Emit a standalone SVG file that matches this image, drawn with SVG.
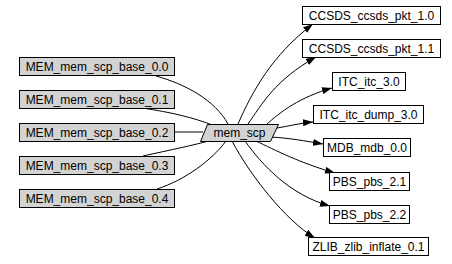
<svg xmlns="http://www.w3.org/2000/svg" width="452" height="264" viewBox="0 0 452 264">
<style>
.n rect,.n polygon{stroke:#000;stroke-width:1}
.g{fill:#d3d3d3}
.w{fill:#fff}
text{font-family:"Liberation Sans",Arial,sans-serif;font-size:12px;fill:#000;text-anchor:middle}
.e path{fill:none;stroke:#000;stroke-width:1}
.a path{marker-end:url(#ah)}
</style>
<defs>
<marker id="ah" viewBox="0 0 10 7" refX="10" refY="3.5" markerWidth="10" markerHeight="7" markerUnits="userSpaceOnUse" orient="auto">
<polygon points="0,0 10,3.5 0,7" fill="#000"/>
</marker>
</defs>
<rect width="452" height="264" fill="#fff"/>
<g id="edges" class="e">
<path d="M156,76 C185,84 215,100 228,124"/>
<path d="M142,108 C170,112 195,118 212,125"/>
<path d="M175,132 L203,132"/>
<path d="M143,156 C170,150 195,145 212,140"/>
<path d="M157,189 C185,180 212,160 226,141"/>
<g class="a">
<path d="M238,124 C252,92 272,55 313,24"/>
<path d="M248,124 C262,104 275,80 316,57"/>
<path d="M266,125 C280,112 300,97 332,88"/>
<path d="M277,128 C290,126 300,123 313,122"/>
<path d="M270,137 C290,138 305,141 323,144"/>
<path d="M256,141 C275,150 300,163 335,173"/>
<path d="M245,141 C262,165 290,195 330,206"/>
<path d="M232,141 C250,175 285,220 315,238"/>
</g>
</g>
<g id="MEM_mem_scp_base_0.0" class="n"><rect class="g" x="19.5" y="57.5" width="155" height="18"/><text x="97" y="71">MEM_mem_scp_base_0.0</text></g>
<g id="MEM_mem_scp_base_0.1" class="n"><rect class="g" x="19.5" y="90.5" width="155" height="18"/><text x="97" y="104">MEM_mem_scp_base_0.1</text></g>
<g id="MEM_mem_scp_base_0.2" class="n"><rect class="g" x="19.5" y="123.5" width="155" height="18"/><text x="97" y="137">MEM_mem_scp_base_0.2</text></g>
<g id="MEM_mem_scp_base_0.3" class="n"><rect class="g" x="19.5" y="156.5" width="155" height="18"/><text x="97" y="170">MEM_mem_scp_base_0.3</text></g>
<g id="MEM_mem_scp_base_0.4" class="n"><rect class="g" x="19.5" y="189.5" width="155" height="18"/><text x="97" y="203">MEM_mem_scp_base_0.4</text></g>
<g id="mem_scp" class="n"><polygon class="g" points="207.5,124.5 278.5,124.5 270.5,141.5 200.5,141.5"/><text x="239.5" y="137">mem_scp</text></g>
<g id="CCSDS_ccsds_pkt_1.0" class="n"><rect class="w" x="302.5" y="6.5" width="138" height="18"/><text x="371.5" y="20">CCSDS_ccsds_pkt_1.0</text></g>
<g id="CCSDS_ccsds_pkt_1.1" class="n"><rect class="w" x="302.5" y="39.5" width="138" height="18"/><text x="371.5" y="53">CCSDS_ccsds_pkt_1.1</text></g>
<g id="ITC_itc_3.0" class="n"><rect class="w" x="332.5" y="72.5" width="73" height="18"/><text x="369" y="86">ITC_itc_3.0</text></g>
<g id="ITC_itc_dump_3.0" class="n"><rect class="w" x="313.5" y="105.5" width="110" height="18"/><text x="368.5" y="119">ITC_itc_dump_3.0</text></g>
<g id="MDB_mdb_0.0" class="n"><rect class="w" x="323.5" y="138.5" width="87" height="18"/><text x="367" y="152">MDB_mdb_0.0</text></g>
<g id="PBS_pbs_2.1" class="n"><rect class="w" x="329.5" y="172.5" width="80" height="18"/><text x="369.5" y="186">PBS_pbs_2.1</text></g>
<g id="PBS_pbs_2.2" class="n"><rect class="w" x="329.5" y="205.5" width="80" height="18"/><text x="369.5" y="219">PBS_pbs_2.2</text></g>
<g id="ZLIB_zlib_inflate_0.1" class="n"><rect class="w" x="308.5" y="237.5" width="120" height="18"/><text x="368.5" y="251">ZLIB_zlib_inflate_0.1</text></g>
</svg>
